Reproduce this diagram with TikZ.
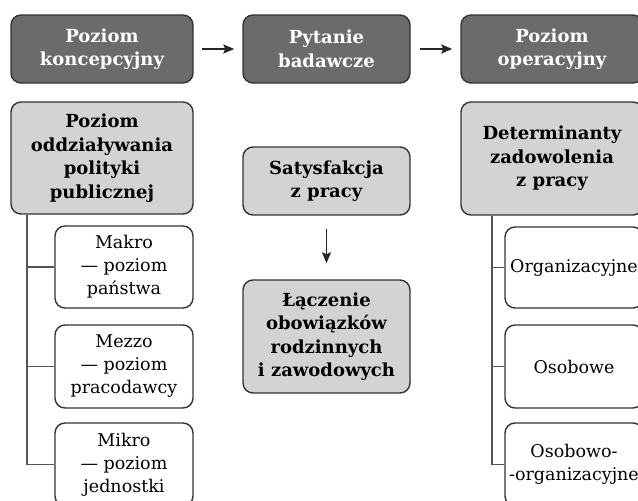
\documentclass[tikz,border=0pt]{standalone}
\usepackage{fontspec}
\setmainfont{DejaVu Serif}
\usetikzlibrary{arrows.meta}
\definecolor{darkfill}{HTML}{6B6B6B}
\definecolor{lightfill}{HTML}{D3D3D3}
\definecolor{edgecol}{HTML}{333333}
\definecolor{linecol}{HTML}{555555}
\begin{document}
\begin{tikzpicture}[x=1pt,y=-1pt,
  base/.style={draw=edgecol, line width=1.4pt, rounded corners=10pt, inner sep=0pt, align=center},
  topbox/.style={base, fill=darkfill, text=white, font=\fontsize{18}{23.5}\selectfont\bfseries},
  midbox/.style={base, fill=lightfill, text=black, font=\fontsize{18}{23.5}\selectfont\bfseries},
  subbox/.style={base, fill=white, text=black, font=\fontsize{17.5}{23}\selectfont},
  link/.style={draw=linecol, line width=1.6pt},
  arr/.style={draw=black!85, line width=2pt, -{Stealth[length=11pt,width=9pt,inset=2pt]}}
]
\clip (0,0) rectangle (638,501);
\fill[white] (0,0) rectangle (638,501);
% top row
\node[topbox, minimum width=182pt, minimum height=68pt] (konc) at (102,49) {Poziom\\koncepcyjny};
\node[topbox, minimum width=167pt, minimum height=68pt] (pyt) at (326.5,49) {Pytanie\\badawcze};
\node[topbox, minimum width=182pt, minimum height=68pt] (oper) at (552,49) {Poziom\\operacyjny};
\draw[arr, shorten <=8pt, shorten >=8pt] (konc) -- (pyt);
\draw[arr, shorten <=9pt, shorten >=8pt] (pyt) -- (oper);
% left column
\node[midbox, minimum width=182pt, minimum height=112pt] (pol) at (102,158) {Poziom\\oddziaływania\\polityki\\publicznej};
\node[subbox, minimum width=138pt, minimum height=82pt] (makro) at (124,267) {Makro\\— poziom\\państwa};
\node[subbox, minimum width=138pt, minimum height=83pt] (mezzo) at (124,366.5) {Mezzo\\— poziom\\pracodawcy};
\node[subbox, minimum width=138pt, minimum height=83pt] (mikro) at (124,464.5) {Mikro\\— poziom\\jednostki};
\coordinate (lt) at (27,0);
\draw[link] (pol.south -| lt) |- (mikro.west);
\draw[link] (makro.west) -- (makro.west -| lt);
\draw[link] (mezzo.west) -- (mezzo.west -| lt);
% middle column
\node[midbox, minimum width=167pt, minimum height=68pt] (sat) at (326.5,181) {Satysfakcja\\z pracy};
\node[midbox, minimum width=167pt, minimum height=113pt] (lacz) at (326.5,336.5) {Łączenie\\obowiązków\\rodzinnych\\i zawodowych};
\draw[arr, line width=1.7pt, shorten <=13pt, shorten >=16pt] (sat) -- (lacz);
% right column
\node[midbox, minimum width=182pt, minimum height=113pt] (det) at (552,158.5) {Determinanty\\zadowolenia\\z pracy};
\node[subbox, minimum width=138pt, minimum height=81pt] (org) at (574,267.5) {Organizacyjne};
\node[subbox, minimum width=138pt, minimum height=83pt] (oso) at (574,366.5) {Osobowe};
\node[subbox, minimum width=138pt, minimum height=83pt] (osoorg) at (574,464.5) {Osobowo-\\-organizacyjne};
\coordinate (rt) at (492,0);
\draw[link] (det.south -| rt) |- (osoorg.west);
\draw[link] (org.west) -- (org.west -| rt);
\draw[link] (oso.west) -- (oso.west -| rt);
\end{tikzpicture}
\end{document}
